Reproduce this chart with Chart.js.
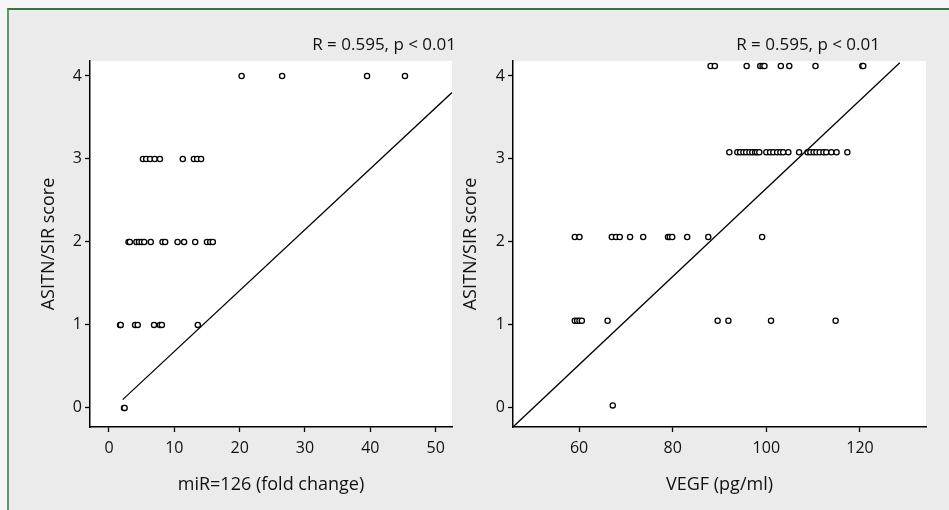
<!DOCTYPE html>
<html>
<head>
<meta charset="utf-8">
<script src="https://cdn.jsdelivr.net/npm/chart.js@4.4.1/dist/chart.umd.min.js"></script>
<style>
  html, body { margin: 0; padding: 0; }
  body { width: 949px; height: 510px; position: relative; overflow: hidden; background: #f5f5f5; }
  #frame {
    position: absolute; left: 7px; top: 8px; right: 0; bottom: 0;
    background: #ebebeb;
    border-top: 2px solid #35763f;
    border-left: 2px solid #5b9a66;
  }
  canvas { position: absolute; top: 0; }
  #left { left: 0; }
  #right { left: 440px; }
</style>
</head>
<body>
<div id="frame"></div>
<canvas id="left" width="474" height="510"></canvas>
<canvas id="right" width="509" height="510"></canvas>
<script>
// ASITN/SIR score vs miR-126 (fold change)
const miRScore4 = [20.3, 26.5, 39.5, 45.3];
const miRScore3 = [5.2, 5.7, 6.3, 7.0, 7.8, 11.3, 13.0, 13.5, 14.1];
const miRScore2 = [3.0, 3.2, 4.2, 4.6, 5.0, 5.4, 6.4, 8.2, 8.6, 10.5, 11.5, 13.2, 15.0, 15.5, 15.9];
const miRScore1 = [1.7, 1.8, 4.0, 4.4, 6.9, 7.8, 8.1, 13.6];
const miRScore0 = [2.3, 2.4];
const miRFitX = [2.1, 52.5];
const miRFitY = [0.10, 3.80];
const miRTicks = [0, 10, 20, 30, 40, 50];

// ASITN/SIR score vs VEGF (pg/ml); scores plotted slightly jittered upward
const vegfLevels = [4.12, 3.08, 2.06, 1.05, 0.03];
const vegfScore4 = [88.1, 89.0, 95.8, 98.7, 99.2, 99.6, 103.1, 104.9, 110.5, 120.5, 120.7];
const vegfScore3 = [92.1, 93.8, 94.4, 95.1, 95.7, 96.4, 97.0, 97.6, 98.0, 98.5, 100.0, 100.8, 101.5, 102.3,
                    103.0, 103.6, 104.7, 107.0, 108.8, 109.4, 110.1, 110.7, 111.4, 112.2, 112.8, 113.9, 115.0, 117.3];
const vegfScore2 = [59.1, 60.1, 67.0, 67.9, 68.7, 70.9, 73.7, 79.0, 79.4, 79.9, 83.1, 87.6, 99.1];
const vegfScore1 = [59.1, 59.6, 60.1, 60.6, 66.1, 89.6, 91.9, 101.0, 114.8];
const vegfScore0 = [67.2];
const vegfFitX = [45.9, 128.5];
const vegfFitY = [-0.23, 4.16];
const vegfTicks = [60, 80, 100, 120];

const scoreTicks = [0, 1, 2, 3, 4];
const corrText = 'R = 0.595, p < 0.01';

const FONT = '"Open Sans", sans-serif';

function toPoints(xs, y) {
  return xs.map(x => ({ x: x, y: y }));
}

// white plotting area + correlation label
const plotBg = {
  id: 'plotBg',
  beforeDraw(chart) {
    const a = chart.chartArea;
    const ctx = chart.ctx;
    ctx.save();
    ctx.fillStyle = '#ffffff';
    ctx.fillRect(a.left, a.top, a.right - a.left, a.bottom - a.top);
    ctx.restore();
  },
  afterDraw(chart, args, opts) {
    const ctx = chart.ctx;
    ctx.save();
    ctx.font = opts.size + 'px ' + FONT;
    ctx.fillStyle = '#111';
    ctx.textAlign = 'right';
    ctx.textBaseline = 'middle';
    ctx.fillText(opts.text, opts.x, opts.y);
    ctx.restore();
  }
};

function makeChart(id, cfg) {
  const pointSets = cfg.groups.map(g => ({
    type: 'scatter',
    data: toPoints(g.xs, g.y),
    pointRadius: 2.6,
    pointHoverRadius: 2.6,
    pointBorderWidth: 1.3,
    pointBorderColor: '#000',
    pointBackgroundColor: '#fff',
    order: 2
  }));
  const fit = {
    type: 'line',
    data: cfg.fitX.map((x, i) => ({ x: x, y: cfg.fitY[i] })),
    borderColor: '#000',
    borderWidth: 1.3,
    pointRadius: 0,
    fill: false,
    order: 1
  };
  return new Chart(document.getElementById(id), {
    type: 'scatter',
    data: { datasets: pointSets.concat([fit]) },
    options: {
      responsive: false,
      animation: false,
      devicePixelRatio: 1,
      layout: { padding: cfg.padding },
      plugins: {
        legend: { display: false },
        tooltip: { enabled: false },
        plotBg: { text: corrText, x: cfg.labelX, y: 45, size: 17 }
      },
      scales: {
        x: {
          type: 'linear',
          min: cfg.xMin,
          max: cfg.xMax,
          afterBuildTicks: s => { s.ticks = cfg.xTicks.map(v => ({ value: v })); },
          afterFit: s => { s.height = 83; },
          grid: { drawOnChartArea: false, drawTicks: true, tickLength: 5, tickWidth: 1.3, tickColor: '#000' },
          border: { display: true, color: '#000', width: 1.5 },
          ticks: { color: '#111', padding: 7, font: { family: FONT, size: 16 } },
          title: {
            display: true, text: cfg.xTitle, color: '#111',
            font: { family: FONT, size: 18 }, padding: { top: 0, bottom: 14 }
          }
        },
        y: {
          type: 'linear',
          min: -0.23,
          max: 4.18,
          afterBuildTicks: s => { s.ticks = scoreTicks.map(v => ({ value: v })); },
          afterFit: s => { s.width = cfg.yWidth; },
          grid: { drawOnChartArea: false, drawTicks: true, tickLength: 5, tickWidth: 1.3, tickColor: '#000' },
          border: { display: true, color: '#000', width: 1.5 },
          ticks: { color: '#111', padding: 3, font: { family: FONT, size: 16 } },
          title: {
            display: true, text: 'ASITN/SIR score', color: '#111',
            font: { family: FONT, size: 18 }, padding: { top: cfg.yTitlePad, bottom: 0 }
          }
        }
      }
    },
    plugins: [plotBg]
  });
}

makeChart('left', {
  groups: [
    { xs: miRScore4, y: 4 }, { xs: miRScore3, y: 3 }, { xs: miRScore2, y: 2 },
    { xs: miRScore1, y: 1 }, { xs: miRScore0, y: 0 }
  ],
  fitX: miRFitX, fitY: miRFitY,
  xMin: -2.9, xMax: 52.5, xTicks: miRTicks,
  xTitle: 'miR=126 (fold change)',
  padding: { left: 30, top: 61, right: 22, bottom: 0 },
  yWidth: 60, yTitlePad: 8,
  labelX: 456
});

makeChart('right', {
  groups: [
    { xs: vegfScore4, y: vegfLevels[0] }, { xs: vegfScore3, y: vegfLevels[1] }, { xs: vegfScore2, y: vegfLevels[2] },
    { xs: vegfScore1, y: vegfLevels[3] }, { xs: vegfScore0, y: vegfLevels[4] }
  ],
  fitX: vegfFitX, fitY: vegfFitY,
  xMin: 45.9, xMax: 134.1, xTicks: vegfTicks,
  xTitle: 'VEGF (pg/ml)',
  padding: { left: 0, top: 61, right: 23, bottom: 0 },
  yWidth: 73, yTitlePad: 20,
  labelX: 440
});
</script>
</body>
</html>
